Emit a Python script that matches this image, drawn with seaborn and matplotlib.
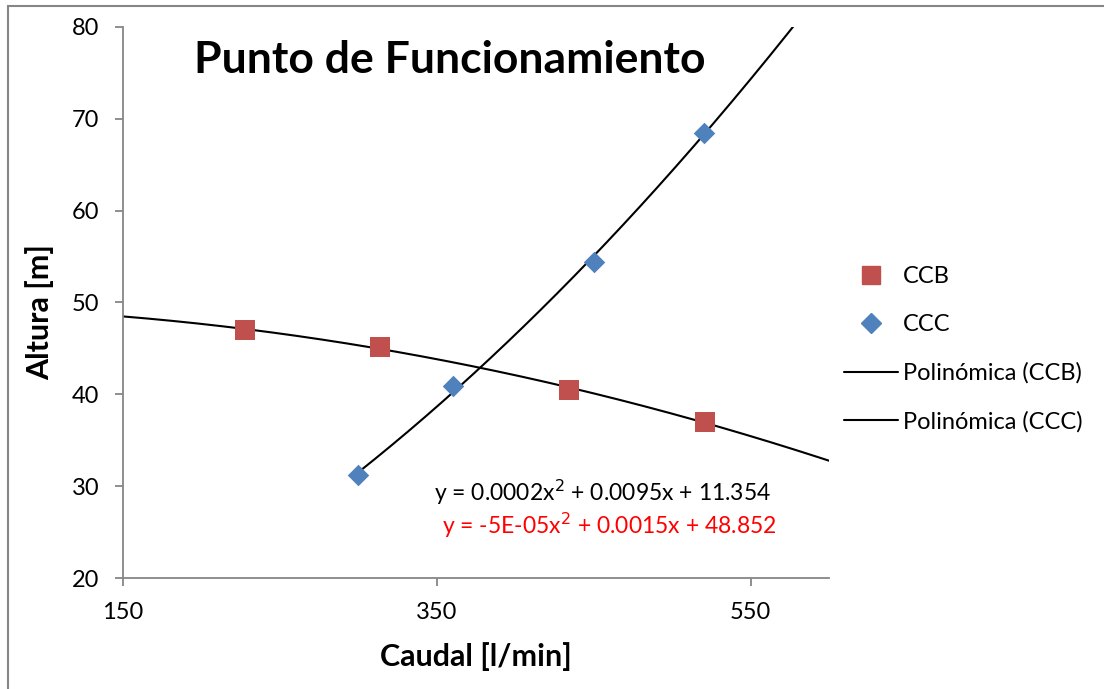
import numpy as np
import pandas as pd
import seaborn as sns
import matplotlib.pyplot as plt
from matplotlib.lines import Line2D

sns.set_style("white")
plt.rcParams['font.family'] = ['Lato', 'DejaVu Sans']
plt.rcParams['text.color'] = 'black'
plt.rcParams['xtick.color'] = 'black'
plt.rcParams['ytick.color'] = 'black'

# data
ccb_x = [228, 314, 434, 521]
ccb_y = [47.0, 45.2, 40.5, 37.0]
ccc_x = [300, 360, 450, 520]
ccc_y = [31.2, 40.9, 54.4, 68.5]
x_ticks = [150, 350, 550]
y_ticks = [20, 30, 40, 50, 60, 70, 80]

ccb = pd.DataFrame({"Caudal": ccb_x, "Altura": ccb_y})
ccc = pd.DataFrame({"Caudal": ccc_x, "Altura": ccc_y})

fig = plt.figure(figsize=(11.04, 6.89), dpi=100)
ax = fig.add_axes([0.1114, 0.161, 0.6396, 0.800])

sns.scatterplot(data=ccb, x="Caudal", y="Altura", marker="s", color="#C0504D",
                s=200, linewidth=0, ax=ax, zorder=3)
sns.scatterplot(data=ccc, x="Caudal", y="Altura", marker="D", color="#4F81BD",
                s=120, linewidth=0, ax=ax, zorder=3)

# polynomial trendlines (2nd order)
p_ccb = np.polyfit(ccb_x, ccb_y, 2)
p_ccc = np.polyfit(ccc_x, ccc_y, 2)
xb = np.linspace(150, 600, 200)
xc = np.linspace(ccc_x[0], 600, 200)
sns.lineplot(x=xb, y=np.polyval(p_ccb, xb), color="black", linewidth=1.5, ax=ax, zorder=2)
sns.lineplot(x=xc, y=np.polyval(p_ccc, xc), color="black", linewidth=1.5, ax=ax, zorder=2)

ax.set_xlim(150, 600)
ax.set_ylim(20, 80)
ax.set_xticks(x_ticks)
ax.set_yticks(y_ticks)
ax.tick_params(axis="both", labelsize=17, length=6, width=1.3, color="#868686",
               labelcolor="black", direction="out", bottom=True, left=True, pad=11)
for side in ["top", "right"]:
    ax.spines[side].set_visible(False)
for side in ["left", "bottom"]:
    ax.spines[side].set_color("#868686")
    ax.spines[side].set_linewidth(1.3)

ax.set_xlabel("")
ax.set_ylabel("")
fig.text(0.431, 0.047, "Caudal [l/min]", fontsize=22, fontweight="bold",
         ha="center", va="center")
fig.text(0.036, 0.547, "Altura [m]", fontsize=22, fontweight="bold",
         ha="center", va="center", rotation=90)

fig.text(0.407, 0.913, "Punto de Funcionamiento", fontsize=32,
         fontweight="bold", ha="center", va="center")

fig.text(0.546, 0.285, "y = 0.0002x$^{2}$ + 0.0095x + 11.354", fontsize=16.5,
         ha="center", va="center", color="black")
fig.text(0.552, 0.238, "y = -5E-05x$^{2}$ + 0.0015x + 48.852", fontsize=16.5,
         ha="center", va="center", color="red")

handles = [
    Line2D([], [], marker="s", color="#C0504D", linestyle="", markersize=13),
    Line2D([], [], marker="D", color="#4F81BD", linestyle="", markersize=10),
    Line2D([], [], color="black", linewidth=1.5),
    Line2D([], [], color="black", linewidth=1.5),
]
labels = ["CCB", "CCC", "Polinómica (CCB)", "Polinómica (CCC)"]
fig.legend(handles, labels, loc="center left", bbox_to_anchor=(0.745, 0.493),
           frameon=False, fontsize=17, labelspacing=1.15, handlelength=2.3,
           handletextpad=0.2)

# outer chart border
fig.add_artist(plt.Rectangle((8 / 1104, -0.01), 1.02, 1 - 6 / 689 + 0.01,
                             transform=fig.transFigure, fill=False,
                             edgecolor="#868686", linewidth=1.5))

fig.savefig("out.png", dpi=100)
